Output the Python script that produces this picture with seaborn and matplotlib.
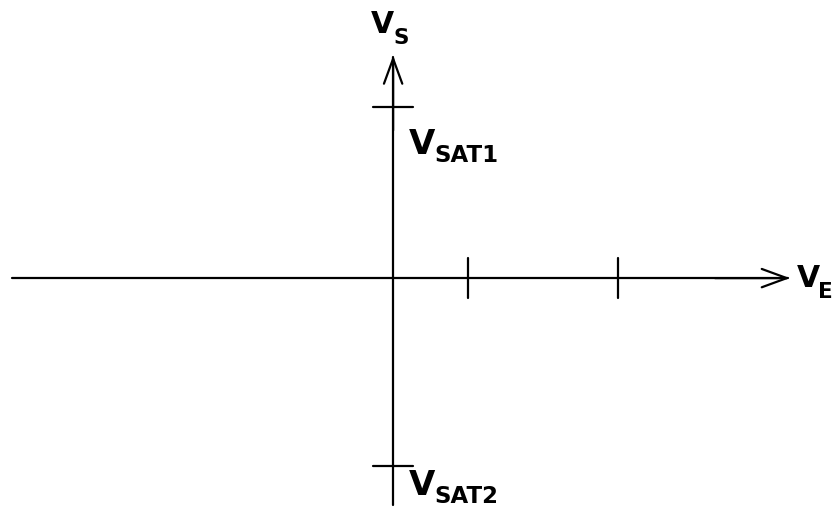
import numpy as np
import pandas as pd
import matplotlib
matplotlib.use("Agg")
import matplotlib.pyplot as plt
import seaborn as sns

# Diagrama de transferência Vs x Ve (unidades arbitrárias, origem no cruzamento)
x_limites = [-5.24, 5.93]
y_limites = [-3.12, 3.71]
eixo_x = [-5.08, 5.29]        # início e ponta da seta do eixo horizontal
eixo_y = [-3.03, 2.97]        # início e ponta da seta do eixo vertical
ticks_x = [1.0, 3.0]
niveis_sat = [2.28, -2.51]
subs_sat = ["SAT1", "SAT2"]
meio_tick = 0.27

sns.set_theme(style="white")
plt.rcParams["font.family"] = ["DejaVu Sans"]

fig = plt.figure(figsize=(8.38, 5.12), dpi=100)
ax = fig.add_axes([0, 0, 1, 1])


def rotulo(x, y, sub, tam, tam_sub, dx, dy):
    # "V" grande + índice menor, deslocado para baixo
    ax.text(x, y, "V", fontsize=tam, fontweight="heavy", color="black",
            ha="left", va="baseline")
    ax.text(x + dx, y - dy, sub, fontsize=tam_sub, fontweight="heavy", color="black",
            ha="left", va="baseline")


# eixos
sns.lineplot(x=[eixo_x[0], eixo_x[1] - 0.02], y=[0, 0], color="black", lw=1.6, ax=ax,
             sort=False, estimator=None)
sns.lineplot(x=[0, 0], y=[eixo_y[0], eixo_y[1] - 0.02], color="black", lw=1.6, ax=ax,
             sort=False, estimator=None)
seta = dict(arrowstyle="->,head_length=1.5,head_width=0.55", color="black", lw=1.6,
            shrinkA=0, shrinkB=0)
ax.annotate("", xy=(eixo_x[1], 0), xytext=(eixo_x[1] - 1, 0), arrowprops=seta)
ax.annotate("", xy=(0, eixo_y[1]), xytext=(0, eixo_y[1] - 1), arrowprops=seta)

# marcas no eixo horizontal
for t in ticks_x:
    sns.lineplot(x=[t, t], y=[-meio_tick, meio_tick], color="black", lw=1.6, ax=ax,
                 sort=False, estimator=None)

# níveis de saturação
for v, sub, dy in zip(niveis_sat, subs_sat, [0.62, 0.38]):
    sns.lineplot(x=[-meio_tick, meio_tick], y=[v, v], color="black", lw=1.6, ax=ax,
                 sort=False, estimator=None)
    rotulo(0.21, v - dy, sub, 24.5, 16.5, 0.34, 0.11)

rotulo(-0.30, 3.27, "S", 21.5, 15.5, 0.30, 0.15)
rotulo(5.38, -0.12, "E", 21.5, 15.5, 0.28, 0.15)

ax.set_xlim(x_limites)
ax.set_ylim(y_limites)
ax.axis("off")

fig.savefig("out.png", dpi=100, facecolor="white")
